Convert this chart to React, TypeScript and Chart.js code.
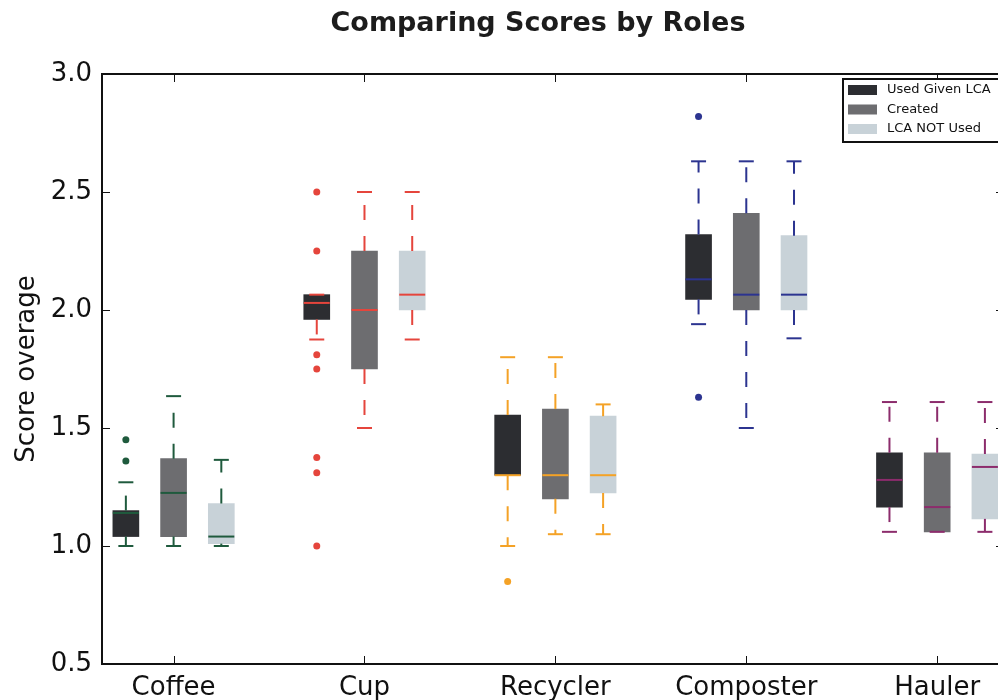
import React, { useEffect, useRef } from 'react';
import { Chart, registerables } from 'chart.js';

Chart.register(...registerables);

// ---- data ----
const categories = ['Coffee', 'Cup', 'Recycler', 'Composter', 'Hauler'];
const roles = ['Used Given LCA', 'Created', 'LCA NOT Used'];
const yTickValues = [0.5, 1.0, 1.5, 2.0, 2.5, 3.0];

// per role, one value per category
const usedLow = [1.0, 1.875, 1.0, 1.94, 1.06];
const usedQ1 = [1.04, 1.96, 1.3, 2.045, 1.165];
const usedMedian = [1.14, 2.03, 1.3, 2.13, 1.28];
const usedQ3 = [1.15, 2.065, 1.555, 2.32, 1.395];
const usedHigh = [1.27, 2.065, 1.8, 2.63, 1.61];
const usedOutliers = [[1.36, 1.45], [2.5, 2.25, 1.81, 1.75, 1.375, 1.31, 1.0], [0.85], [2.82, 1.63], []];

const createdLow = [1.0, 1.5, 1.05, 1.5, 1.06];
const createdQ1 = [1.04, 1.75, 1.2, 2.0, 1.06];
const createdMedian = [1.225, 2.0, 1.3, 2.065, 1.165];
const createdQ3 = [1.37, 2.25, 1.58, 2.41, 1.395];
const createdHigh = [1.635, 2.5, 1.8, 2.63, 1.61];
const createdOutliers = [[], [], [], [], []];

const notUsedLow = [1.0, 1.875, 1.05, 1.88, 1.06];
const notUsedQ1 = [1.01, 2.0, 1.225, 2.0, 1.115];
const notUsedMedian = [1.04, 2.065, 1.3, 2.065, 1.335];
const notUsedQ3 = [1.18, 2.25, 1.55, 2.315, 1.39];
const notUsedHigh = [1.365, 2.5, 1.6, 2.63, 1.61];
const notUsedOutliers = [[], [], [], [], []];

// ---- styles ----
const categoryColors = ['#1f5a3d', '#e5453c', '#f4a226', '#2c3490', '#8c2c6c'];
const roleFills = ['#2c2d31', '#6d6d70', '#c8d2d8'];
const FONT = "'DejaVu Sans', sans-serif";
const BOX_W = 26;

const lows = [usedLow, createdLow, notUsedLow];
const q1s = [usedQ1, createdQ1, notUsedQ1];
const medians = [usedMedian, createdMedian, notUsedMedian];
const q3s = [usedQ3, createdQ3, notUsedQ3];
const highs = [usedHigh, createdHigh, notUsedHigh];
const outliers = [usedOutliers, createdOutliers, notUsedOutliers];

const posOf = (cat: number, role: number) => cat * 4 + 1 + role;

const boxPartsPlugin = {
  id: 'boxParts',
  afterDatasetsDraw(chart: any) {
    const { ctx, chartArea, scales } = chart;
    const x = scales.x;
    const y = scales.y;
    ctx.save();
    ctx.beginPath();
    ctx.rect(chartArea.left, chartArea.top, chartArea.right - chartArea.left, chartArea.bottom - chartArea.top);
    ctx.clip();
    const line = (x1: number, y1: number, x2: number, y2: number) => {
      ctx.beginPath();
      ctx.moveTo(x1, y1);
      ctx.lineTo(x2, y2);
      ctx.stroke();
    };
    roles.forEach((_, r) => {
      categories.forEach((__, i) => {
        const px = x.getPixelForValue(posOf(i, r));
        const half = BOX_W / 2;
        const capHalf = BOX_W / 4 + 1;
        ctx.strokeStyle = categoryColors[i];
        ctx.lineWidth = 2;
        ctx.lineCap = 'butt';
        const yq1 = y.getPixelForValue(q1s[r][i]);
        const yq3 = y.getPixelForValue(q3s[r][i]);
        const ylo = y.getPixelForValue(lows[r][i]);
        const yhi = y.getPixelForValue(highs[r][i]);
        const ymed = y.getPixelForValue(medians[r][i]);
        ctx.setLineDash([15, 16]);
        if (Math.abs(yhi - yq3) > 0.5) line(px, yq3, px, yhi);
        if (Math.abs(ylo - yq1) > 0.5) line(px, yq1, px, ylo);
        ctx.setLineDash([]);
        line(px - capHalf, yhi, px + capHalf, yhi);
        line(px - capHalf, ylo, px + capHalf, ylo);
        line(px - half, ymed, px + half, ymed);
      });
    });
    ctx.restore();
  },
  afterDraw(chart: any) {
    const { ctx, chartArea, scales } = chart;
    const x = scales.x;
    const y = scales.y;
    const { left, right, top, bottom } = chartArea;
    ctx.save();
    // spines
    ctx.strokeStyle = '#111';
    ctx.lineWidth = 2;
    ctx.strokeRect(left, top, right - left, bottom - top);
    // inward ticks
    ctx.lineWidth = 1;
    const TL = 8;
    yTickValues.forEach((v) => {
      const py = Math.round(y.getPixelForValue(v)) + 0.5;
      ctx.beginPath();
      ctx.moveTo(left, py);
      ctx.lineTo(left + TL, py);
      ctx.moveTo(right, py);
      ctx.lineTo(right - TL, py);
      ctx.stroke();
    });
    categories.forEach((_, i) => {
      const px = Math.round(x.getPixelForValue(posOf(i, 1))) + 0.5;
      ctx.beginPath();
      ctx.moveTo(px, bottom);
      ctx.lineTo(px, bottom - TL);
      ctx.moveTo(px, top);
      ctx.lineTo(px, top + TL);
      ctx.stroke();
    });
    // legend (upper right, inside axes)
    const lx = 843;
    const ly = top + 5;
    const lw = right - 4 - lx;
    const lh = 63;
    ctx.fillStyle = '#fff';
    ctx.fillRect(lx, ly, lw, lh);
    ctx.strokeStyle = '#111';
    ctx.lineWidth = 2;
    ctx.strokeRect(lx, ly, lw, lh);
    ctx.font = `13px ${FONT}`;
    ctx.textBaseline = 'middle';
    ctx.textAlign = 'left';
    roles.forEach((name, r) => {
      const cy = ly + 11 + r * 19.5;
      ctx.fillStyle = roleFills[r];
      ctx.fillRect(lx + 5, cy - 5, 29, 10);
      ctx.fillStyle = '#111';
      ctx.fillText(name, lx + 44, cy);
    });
    ctx.restore();
  },
};

export default function App() {
  const canvasRef = useRef<HTMLCanvasElement | null>(null);

  useEffect(() => {
    if (!canvasRef.current) return;
    const barSets = roles.map((name, r) => ({
      type: 'bar' as const,
      label: name,
      data: categories.map((_, i) => ({ x: posOf(i, r), y: [q1s[r][i], q3s[r][i]] })),
      backgroundColor: roleFills[r],
      borderWidth: 0,
      barThickness: BOX_W,
      grouped: false,
      order: 2,
    }));
    const outlierPoints: any[] = [];
    const outlierColors: string[] = [];
    roles.forEach((_, r) => {
      categories.forEach((__, i) => {
        outliers[r][i].forEach((v) => {
          outlierPoints.push({ x: posOf(i, r), y: v });
          outlierColors.push(categoryColors[i]);
        });
      });
    });
    const scatterSet = {
      type: 'scatter' as const,
      label: 'outliers',
      data: outlierPoints,
      pointBackgroundColor: outlierColors,
      pointBorderWidth: 0,
      pointRadius: 3.5,
      showLine: false,
      order: 1,
    };

    const chart = new Chart(canvasRef.current, {
      type: 'bar',
      data: { datasets: [...barSets, scatterSet] as any },
      options: {
        responsive: false,
        animation: false,
        events: [],
        layout: { padding: 0 },
        plugins: {
          legend: { display: false },
          tooltip: { enabled: false },
          title: {
            display: true,
            text: 'Comparing Scores by Roles',
            color: '#1c1c1c',
            font: { family: FONT, size: 27, weight: 'bold' },
            padding: { top: 8, bottom: 33.6 },
          },
        },
        scales: {
          x: {
            type: 'linear',
            min: 0.5,
            max: 19.4,
            offset: false,
            grid: { display: false, drawTicks: false },
            border: { display: false },
            afterBuildTicks: (s: any) => {
              s.ticks = categories.map((_, i) => ({ value: posOf(i, 1) }));
            },
            afterFit: (s: any) => {
              s.height = 36;
            },
            ticks: {
              autoSkip: false,
              maxRotation: 0,
              padding: 9,
              color: '#111',
              font: { family: FONT, size: 26 },
              callback: (_v: any, idx: number) => categories[idx],
            },
          },
          y: {
            type: 'linear',
            min: 0.5,
            max: 3.0,
            beginAtZero: false,
            grid: { display: false, drawTicks: false },
            border: { display: false },
            afterBuildTicks: (s: any) => {
              s.ticks = yTickValues.map((v) => ({ value: v }));
            },
            afterFit: (s: any) => {
              s.width = 102;
            },
            ticks: {
              padding: 10,
              color: '#111',
              font: { family: FONT, size: 26 },
              callback: (v: any) => Number(v).toFixed(1),
            },
            title: {
              display: true,
              text: 'Score overage',
              color: '#111',
              font: { family: FONT, size: 26 },
              padding: { top: 12, bottom: 0 },
            },
          },
          yR: {
            type: 'linear',
            position: 'right',
            display: true,
            grid: { display: false, drawTicks: false },
            border: { display: false },
            ticks: { display: false },
            afterFit: (s: any) => {
              s.width = 72;
            },
          },
        },
      } as any,
      plugins: [boxPartsPlugin],
    });
    return () => chart.destroy();
  }, []);

  return (
    <div style={{ position: 'fixed', left: 0, top: 0, width: 998, height: 700, overflow: 'hidden', background: '#fff' }}>
      <canvas ref={canvasRef} width={1076} height={700} style={{ display: 'block' }} />
    </div>
  );
}
